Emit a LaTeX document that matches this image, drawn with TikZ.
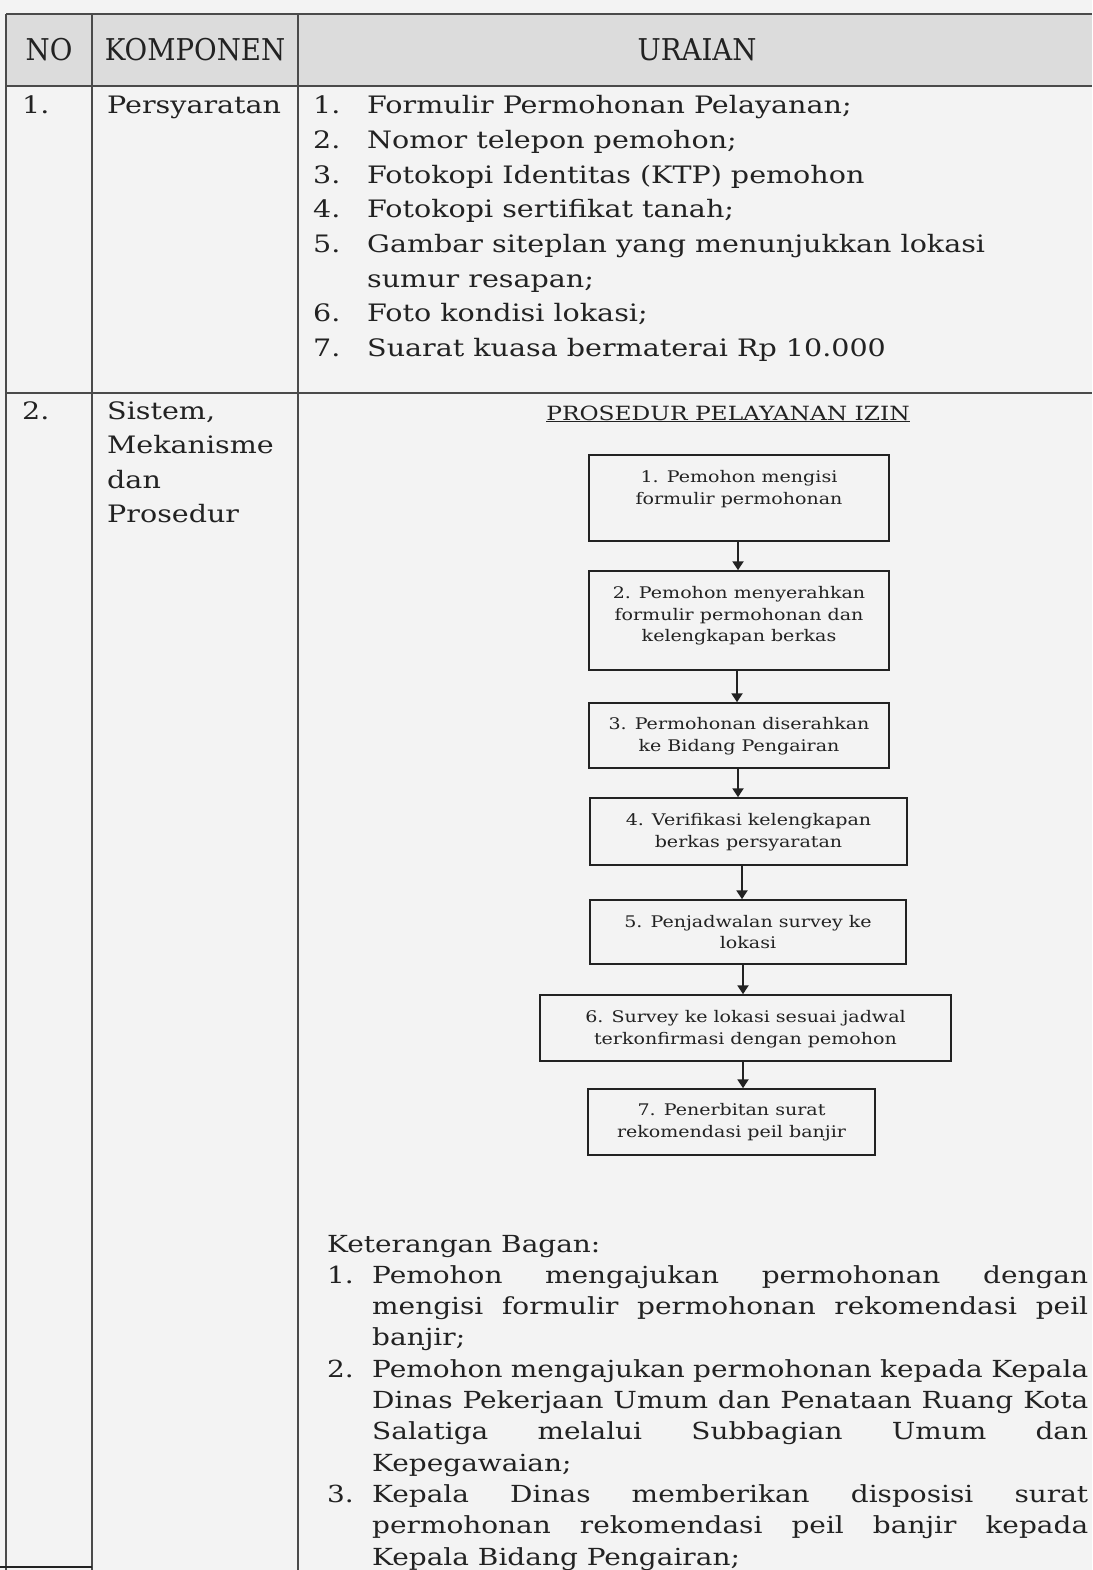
\documentclass[tikz,border=0pt]{standalone}
\usepackage{fontspec}
\setmainfont{DejaVu Serif}
\newfontfamily\bk{DejaVu Serif}[FakeStretch=1.19]
\newfontfamily\hd{DejaVu Serif}[FakeStretch=0.92]
\usetikzlibrary{arrows.meta}
\definecolor{ink}{HTML}{222222}
\definecolor{rulec}{HTML}{4A4A4A}
\definecolor{paper}{HTML}{F3F3F3}
\definecolor{headfill}{HTML}{DCDCDC}
\begin{document}
\begin{tikzpicture}[x=1pt,y=-1pt,
  txt/.style={anchor=base west, inner sep=0pt, text=ink, font=\bk\fontsize{24}{34.6}\selectfont},
  ktxt/.style={anchor=base west, inner sep=0pt, text=ink, font=\bk\fontsize{23.5}{31.3}\selectfont},
  htxt/.style={anchor=base, inner sep=0pt, text=ink, font=\hd\fontsize{30}{34}\selectfont},
  flow/.style={draw=ink, line width=1.5pt, fill=none, inner sep=0pt},
  ftxt/.style={align=center, inner sep=0pt, text=ink, font=\bk\fontsize{16}{21.5}\selectfont},
  ttl/.style={anchor=base, inner sep=0pt, text=ink, font=\bk\fontsize{19.6}{24}\selectfont},
  arr/.style={draw=ink, line width=2.2pt, -{Triangle[width=11pt,length=9pt]}},
  gridline/.style={draw=rulec, line width=1.2pt}]
\useasboundingbox (0,0) rectangle (1092,1570);
\clip (0,0) rectangle (1092,1570);
\fill[paper] (0,0) rectangle (1092,1570);
\fill[headfill] (6,14) rectangle (1092,86);
% grid
\draw[gridline] (6,14) -- (1092,14);
\draw[gridline] (6,86) -- (1092,86);
\draw[gridline] (6,393) -- (1092,393);
\draw[gridline] (6,14) -- (6,1570);
\draw[gridline] (92,14) -- (92,1570);
\draw[gridline] (298,14) -- (298,1570);
\draw[draw=ink, line width=2.5pt] (0,1567) -- (92,1567);
% header
\node[htxt] (hno) at (49,61) {NO};
\node[htxt] (hkomp) at (195,61) {KOMPONEN};
\node[htxt] (hur) at (697,61) {URAIAN};
% row 1
\node[txt] (r1no) at (22,114) {1.};
\node[txt] (r1k) at (107,114) {Persyaratan};
\node[txt] (p1n) at (313,114) {1.};
\node[txt] (p1) at (367,114) {Formulir Permohonan Pelayanan;};
\node[txt] (p2n) at (313,148.6) {2.};
\node[txt] (p2) at (367,148.6) {Nomor telepon pemohon;};
\node[txt] (p3n) at (313,183.2) {3.};
\node[txt] (p3) at (367,183.2) {Fotokopi Identitas (KTP) pemohon};
\node[txt] (p4n) at (313,217.8) {4.};
\node[txt] (p4) at (367,217.8) {Fotokopi sertifikat tanah;};
\node[txt] (p5n) at (313,252.4) {5.};
\node[txt] (p5) at (367,252.4) {Gambar siteplan yang menunjukkan lokasi};
\node[txt] (p5b) at (367,287) {sumur resapan;};
\node[txt] (p6n) at (313,321.6) {6.};
\node[txt] (p6) at (367,321.6) {Foto kondisi lokasi;};
\node[txt] (p7n) at (313,356.2) {7.};
\node[txt] (p7) at (367,356.2) {Suarat kuasa bermaterai Rp 10.000};
% row 2
\node[txt] (r2no) at (22,419) {2.};
\node[txt] (r2a) at (107,419) {Sistem,};
\node[txt] (r2b) at (107,453.6) {Mekanisme};
\node[txt] (r2c) at (107,488.2) {dan};
\node[txt] (r2d) at (107,522.8) {Prosedur};
% flowchart
\node[ttl] (title) at (728,420) {\underline{PROSEDUR PELAYANAN IZIN}};
\node[flow, minimum width=300pt, minimum height=86pt] (b1) at (739,498) {};
\node[ftxt] (t1) at (739,489) {1. Pemohon mengisi\\formulir permohonan};
\node[flow, minimum width=300pt, minimum height=99pt] (b2) at (739,620.5) {};
\node[ftxt] (t2) at (739,616) {2. Pemohon menyerahkan\\formulir permohonan dan\\kelengkapan berkas};
\node[flow, minimum width=300pt, minimum height=65pt] (b3) at (739,735.5) {};
\node[ftxt] (t3) at (739,736) {3. Permohonan diserahkan\\ke Bidang Pengairan};
\node[flow, minimum width=317pt, minimum height=67pt] (b4) at (748.5,831.5) {};
\node[ftxt] (t4) at (748.5,832) {4. Verifikasi kelengkapan\\berkas persyaratan};
\node[flow, minimum width=316pt, minimum height=64pt] (b5) at (748,932) {};
\node[ftxt] (t5) at (748,932) {5. Penjadwalan survey ke\\lokasi};
\node[flow, minimum width=411pt, minimum height=66pt] (b6) at (745.5,1028) {};
\node[ftxt] (t6) at (745.5,1029) {6. Survey ke lokasi sesuai jadwal\\terkonfirmasi dengan pemohon};
\node[flow, minimum width=287pt, minimum height=66pt] (b7) at (731.5,1122) {};
\node[ftxt] (t7) at (731.5,1122) {7. Penerbitan surat\\rekomendasi peil banjir};
\coordinate (ax1) at (738,0);
\coordinate (ax2) at (737,0);
\coordinate (ax3) at (738,0);
\coordinate (ax4) at (742,0);
\coordinate (ax5) at (743,0);
\coordinate (ax6) at (743,0);
\draw[arr] (b1.south -| ax1) -- (b2.north -| ax1);
\draw[arr] (b2.south -| ax2) -- (b3.north -| ax2);
\draw[arr] (b3.south -| ax3) -- (b4.north -| ax3);
\draw[arr] (b4.south -| ax4) -- (b5.north -| ax4);
\draw[arr] (b5.south -| ax5) -- (b6.north -| ax5);
\draw[arr] (b6.south -| ax6) -- (b7.north -| ax6);
% keterangan
\node[ktxt] (ket) at (327,1252) {Keterangan Bagan:};
\node[ktxt] (k1n) at (327,1283.3) {1.};
\node[ktxt] (k1a) at (372,1283.3) {\makebox[716pt][s]{Pemohon mengajukan permohonan dengan}};
\node[ktxt] (k1b) at (372,1314.6) {\makebox[716pt][s]{mengisi formulir permohonan rekomendasi peil}};
\node[ktxt] (k1c) at (372,1345.9) {banjir;};
\node[ktxt] (k2n) at (327,1377.2) {2.};
\node[ktxt] (k2a) at (372,1377.2) {\makebox[716pt][s]{Pemohon mengajukan permohonan kepada Kepala}};
\node[ktxt] (k2b) at (372,1408.5) {\makebox[716pt][s]{Dinas Pekerjaan Umum dan Penataan Ruang Kota}};
\node[ktxt] (k2c) at (372,1439.8) {\makebox[716pt][s]{Salatiga melalui Subbagian Umum dan}};
\node[ktxt] (k2d) at (372,1471.1) {Kepegawaian;};
\node[ktxt] (k3n) at (327,1502.4) {3.};
\node[ktxt] (k3a) at (372,1502.4) {\makebox[716pt][s]{Kepala Dinas memberikan disposisi surat}};
\node[ktxt] (k3b) at (372,1533.7) {\makebox[716pt][s]{permohonan rekomendasi peil banjir kepada}};
\node[ktxt] (k3c) at (372,1565) {Kepala Bidang Pengairan;};
\end{tikzpicture}
\end{document}
